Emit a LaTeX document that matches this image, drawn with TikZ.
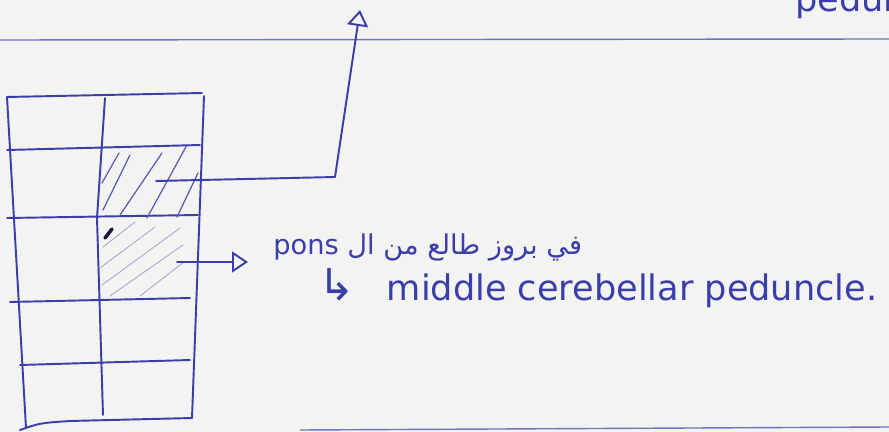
\documentclass[tikz,border=0pt]{standalone}
\usepackage{fontspec}
\setmainfont{DejaVu Sans}
\newfontfamily\arabicfont[Script=Arabic]{DejaVu Sans}
\TeXXeTstate=1
\usetikzlibrary{arrows.meta}
\definecolor{ink}{RGB}{58,62,168}
\definecolor{rulecol}{RGB}{112,115,190}
\definecolor{paper}{RGB}{243,243,241}
\definecolor{faint}{RGB}{160,162,205}

\begin{document}
\begin{tikzpicture}[x=0.02cm,y=-0.02cm,
  pen/.style={draw=ink,line width=1.1pt,line cap=round,line join=round},
  ruled/.style={draw=rulecol,line width=0.8pt},
  hatch/.style={draw=ink!85,line width=0.7pt,line cap=round},
  lighthatch/.style={draw=faint,line width=0.45pt,line cap=round},
  note/.style={text=ink,inner sep=0pt,font=\fontsize{20}{24}\selectfont},
  arr/.style={pen,-{Triangle[open,length=0.32cm,width=0.42cm,line width=1.1pt]}}]
  \fill[paper] (0,0) rectangle (889,432);
  \useasboundingbox (0,0) rectangle (889,432);
  \clip (0,0) rectangle (889,432);
  % ruled lines of the page
  \draw[ruled] (0,40) -- (889,39);
  \draw[ruled] (300,430) -- (889,427);
  % the grid
  \draw[pen] (7,97) -- (202,93);
  \draw[pen] (7,97) -- (26,428);
  \draw[pen] (204,96) -- (192,418);
  \draw[pen] (20,430) .. controls (40,423) .. (70,421) -- (192,418);
  \draw[pen] (105,98) -- (97,218) -- (103,415);
  \draw[pen] (7,150) -- (200,145);
  \draw[pen] (7,218) -- (198,215);
  \draw[pen] (10,302) -- (190,298);
  \draw[pen] (20,365) -- (190,360);
  % hatching
  \draw[hatch] (102,183) -- (119,153);
  \draw[hatch] (103,210) -- (130,155);
  \draw[hatch] (120,215) -- (162,153);
  \draw[hatch] (147,218) -- (187,145);
  \draw[hatch] (177,217) -- (198,173);
  \draw[lighthatch] (103,247) -- (135,222);
  \draw[lighthatch] (100,268) -- (155,227);
  \draw[lighthatch] (102,285) -- (180,228);
  \draw[lighthatch] (110,296) -- (183,245);
  \draw[lighthatch] (140,296) -- (184,262);
  \draw[ink!40!black,line width=2pt,line cap=round] (105,238) -- (112,229);
  % labels
  \node[note,anchor=base west,font=\fontsize{15.5}{19}\selectfont] (nPons) at (273,255)
    {\arabicfont\beginR في بروز طالع من ال \beginL pons\endL\endR};
  \node[note,anchor=base west] (nMiddle) at (318,300)
    {{\fontsize{25}{28}\selectfont ↳}\hspace{18pt}middle cerebellar peduncle.};
  \node[note,anchor=base west] (nTop) at (795,12) {pedun};
  % arrows
  \coordinate (c1) at (156,181);
  \coordinate (c2) at (177,262);
  \coordinate (up) at (360,10);
  \draw[arr] (c1) -- (335,177) -- (up);
  \draw[arr,shorten >=0.5cm] (c2) -- (c2 -| nPons.west);
\end{tikzpicture}
\end{document}
